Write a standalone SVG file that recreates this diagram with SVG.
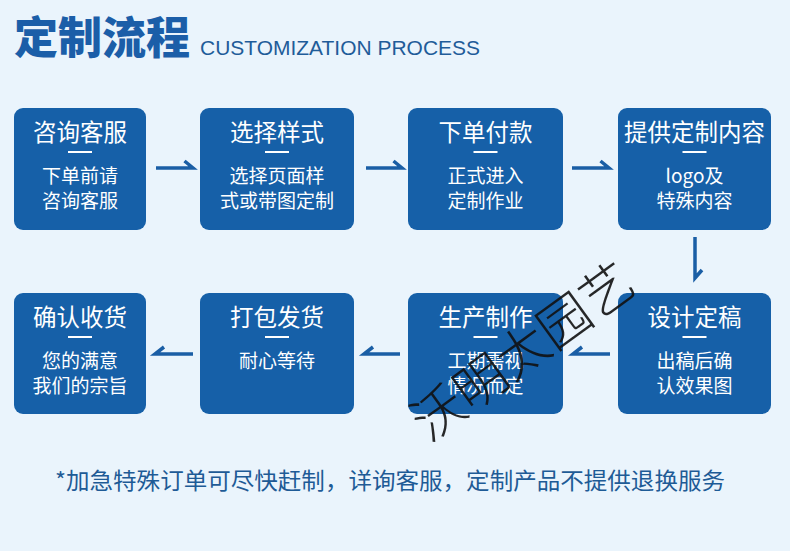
<svg xmlns="http://www.w3.org/2000/svg" width="790" height="551" viewBox="0 0 790 551">
<style>
.bg{fill:#eaf4fc}
.box{fill:#1660a8}
.t{font-family:"Noto Sans CJK SC","Noto Sans",sans-serif;fill:#fff;text-anchor:middle}
.tt{font-size:23.5px}
.st{font-size:19px}
.div{stroke:#fff;stroke-width:2}
.arr{fill:none;stroke:#1a5ea5;stroke-width:3.5;stroke-linejoin:miter}
</style>
<rect class="bg" x="0" y="0" width="790" height="551"/>
<g id="header">
<text x="14" y="54" font-family="'Noto Sans CJK SC',sans-serif" font-size="44" font-weight="900" fill="#1b5ea8">定制流程</text>
<text x="200" y="55" font-family="'Liberation Sans',Arial,sans-serif" font-size="21" fill="#1f5c99" textLength="280" lengthAdjust="spacingAndGlyphs">CUSTOMIZATION PROCESS</text>
</g>
<g id="connectors">
<path class="arr" d="M156 168H193L184.5 161"/>
<path class="arr" d="M366 168H402L393.5 161"/>
<path class="arr" d="M572 168H609L600.5 161"/>
<path class="arr" d="M695 237V278L702 270"/>
<path class="arr" d="M193 354H155L164 347"/>
<path class="arr" d="M400 354H364L373 347"/>
<path class="arr" d="M610 354H573L582 347"/>
</g>
<g id="n1">
<rect class="box" x="14" y="108" width="132" height="122" rx="9"/>
<text class="t tt" x="80" y="141">咨询客服</text>
<line class="div" x1="68" y1="152" x2="92" y2="152"/>
<text class="t st" x="80" y="183">下单前请</text>
<text class="t st" x="80" y="208">咨询客服</text>
</g>
<g id="n2">
<rect class="box" x="200" y="108" width="154" height="122" rx="9"/>
<text class="t tt" x="277" y="141">选择样式</text>
<line class="div" x1="265" y1="152" x2="289" y2="152"/>
<text class="t st" x="277" y="183">选择页面样</text>
<text class="t st" x="277" y="208">式或带图定制</text>
</g>
<g id="n3">
<rect class="box" x="408" y="108" width="155" height="122" rx="9"/>
<text class="t tt" x="485.5" y="141">下单付款</text>
<line class="div" x1="473.5" y1="152" x2="497.5" y2="152"/>
<text class="t st" x="485.5" y="183">正式进入</text>
<text class="t st" x="485.5" y="208">定制作业</text>
</g>
<g id="n4">
<rect class="box" x="618" y="108" width="153" height="122" rx="9"/>
<text class="t tt" x="694.5" y="141">提供定制内容</text>
<line class="div" x1="682.5" y1="152" x2="706.5" y2="152"/>
<text class="t st" x="694.5" y="183">logo及</text>
<text class="t st" x="694.5" y="208">特殊内容</text>
</g>
<g id="n5">
<rect class="box" x="618" y="293" width="153" height="121" rx="9"/>
<text class="t tt" x="694.5" y="326">设计定稿</text>
<line class="div" x1="682.5" y1="337" x2="706.5" y2="337"/>
<text class="t st" x="694.5" y="368">出稿后确</text>
<text class="t st" x="694.5" y="393">认效果图</text>
</g>
<g id="n6">
<rect class="box" x="408" y="293" width="155" height="121" rx="9"/>
<text class="t tt" x="485.5" y="326">生产制作</text>
<line class="div" x1="473.5" y1="337" x2="497.5" y2="337"/>
<text class="t st" x="485.5" y="368">工期需视</text>
<text class="t st" x="485.5" y="393">情况而定</text>
</g>
<g id="n7">
<rect class="box" x="200" y="293" width="154" height="121" rx="9"/>
<text class="t tt" x="277" y="326">打包发货</text>
<line class="div" x1="265" y1="337" x2="289" y2="337"/>
<text class="t st" x="277" y="368">耐心等待</text>
</g>
<g id="n8">
<rect class="box" x="14" y="293" width="132" height="121" rx="9"/>
<text class="t tt" x="80" y="326">确认收货</text>
<line class="div" x1="68" y1="337" x2="92" y2="337"/>
<text class="t st" x="80" y="368">您的满意</text>
<text class="t st" x="80" y="393">我们的宗旨</text>
</g>
<g id="footer">
<text x="55" y="489" font-family="'Noto Sans CJK SC',sans-serif" font-size="22.5" fill="#1e5b96" textLength="670" lengthAdjust="spacingAndGlyphs">*加急特殊订单可尽快赶制，详询客服，定制产品不提供退换服务</text>
</g>
<g id="watermark" transform="translate(523,352) rotate(-36)">
<text x="0" y="18" text-anchor="middle" font-family="'Noto Sans CJK SC',sans-serif" font-size="52" font-weight="300" fill="#111" fill-opacity="0.9">沃明太园艺</text>
</g>
</svg>
